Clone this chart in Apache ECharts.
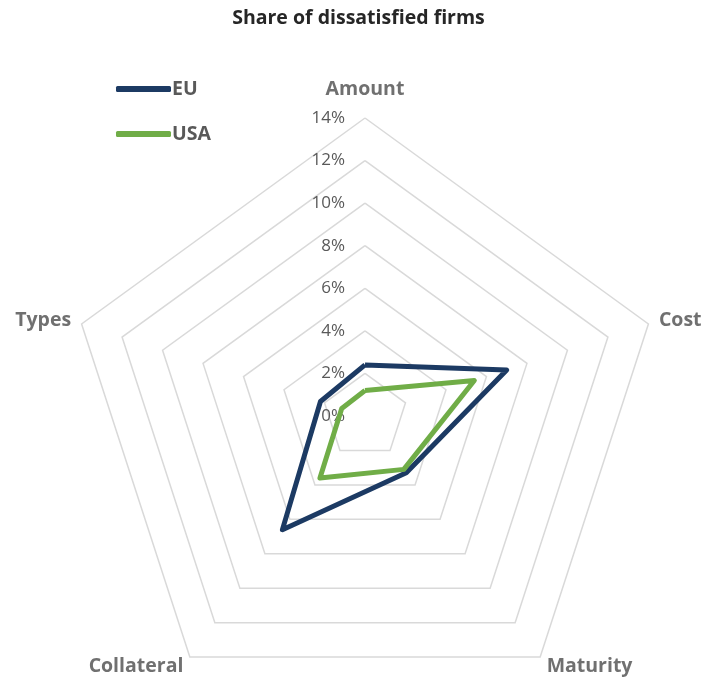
<!DOCTYPE html>
<html>
<head>
<meta charset="utf-8">
<script src="https://cdn.jsdelivr.net/npm/echarts@6/dist/echarts.min.js"></script>
<style>
  html, body { margin: 0; padding: 0; background: #fff; }
  #chart { width: 717px; height: 679px; }
</style>
</head>
<body>
<div id="chart"></div>
<script>
// axes listed counter-clockwise from the top (ECharts radar draws them that way)
const indicators = ['Amount', 'Types', 'Collateral', 'Maturity', 'Cost']
const axisMax = 14
const euValues = [2.4, 2.2, 6.6, 3.3, 7.0]
const usaValues = [1.2, 1.15, 3.6, 3.1, 5.4]

const fontFamily = "'Open Sans', 'Noto Sans', sans-serif"

const chart = echarts.init(document.getElementById('chart'))

const option = {
  backgroundColor: '#fff',
  animation: false,
  title: {
    text: 'Share of dissatisfied firms',
    left: 'center',
    top: 3,
    textStyle: {
      fontFamily: fontFamily,
      fontSize: 19.5,
      fontWeight: 'bold',
      color: '#262626',
    },
  },
  legend: {
    orient: 'vertical',
    left: 111,
    top: 74,
    itemWidth: 55,
    itemHeight: 6,
    itemGap: 25,
    icon: 'roundRect',
    textStyle: {
      fontFamily: fontFamily,
      fontSize: 19.5,
      fontWeight: 'bold',
      color: '#595959',
      padding: [0, 0, 0, -4],
    },
    data: ['EU', 'USA'],
  },
  radar: {
    center: [365, 416],
    radius: 298,
    startAngle: 90,
    splitNumber: 7,
    shape: 'polygon',
    nameGap: 11,
    axisName: {
      fontFamily: fontFamily,
      fontSize: 19.5,
      fontWeight: 'bold',
      color: '#707070',
      padding: [4, 0, 0, 0],
    },
    axisLine: { show: false },
    axisTick: { show: false },
    splitArea: { show: false },
    splitLine: {
      lineStyle: { color: '#d9d9d9', width: 1.5 },
    },
    axisLabel: { show: false },
    indicator: indicators.map((name, i) => {
      const ind = { name: name, min: 0, max: axisMax }
      if (i === 0) {
        ind.axisLabel = {
          show: true,
          fontFamily: fontFamily,
          fontSize: 17,
          color: '#595959',
          margin: 20,
          padding: [4, 0, 0, 0],
          formatter: (v) => v + '%',
        }
        ind.nameTextStyle = { padding: [0, 0, 8, 0] }
      }
      return ind
    }),
  },
  series: [
    {
      type: 'radar',
      symbol: 'none',
      data: [
        {
          name: 'EU',
          value: euValues,
          lineStyle: { color: '#1c3a63', width: 5, join: 'round' },
          itemStyle: { color: '#1c3a63' },
        },
        {
          name: 'USA',
          value: usaValues,
          lineStyle: { color: '#70ad47', width: 5, join: 'round' },
          itemStyle: { color: '#70ad47' },
        },
      ],
    },
  ],
}

chart.setOption(option)
</script>
</body>
</html>
